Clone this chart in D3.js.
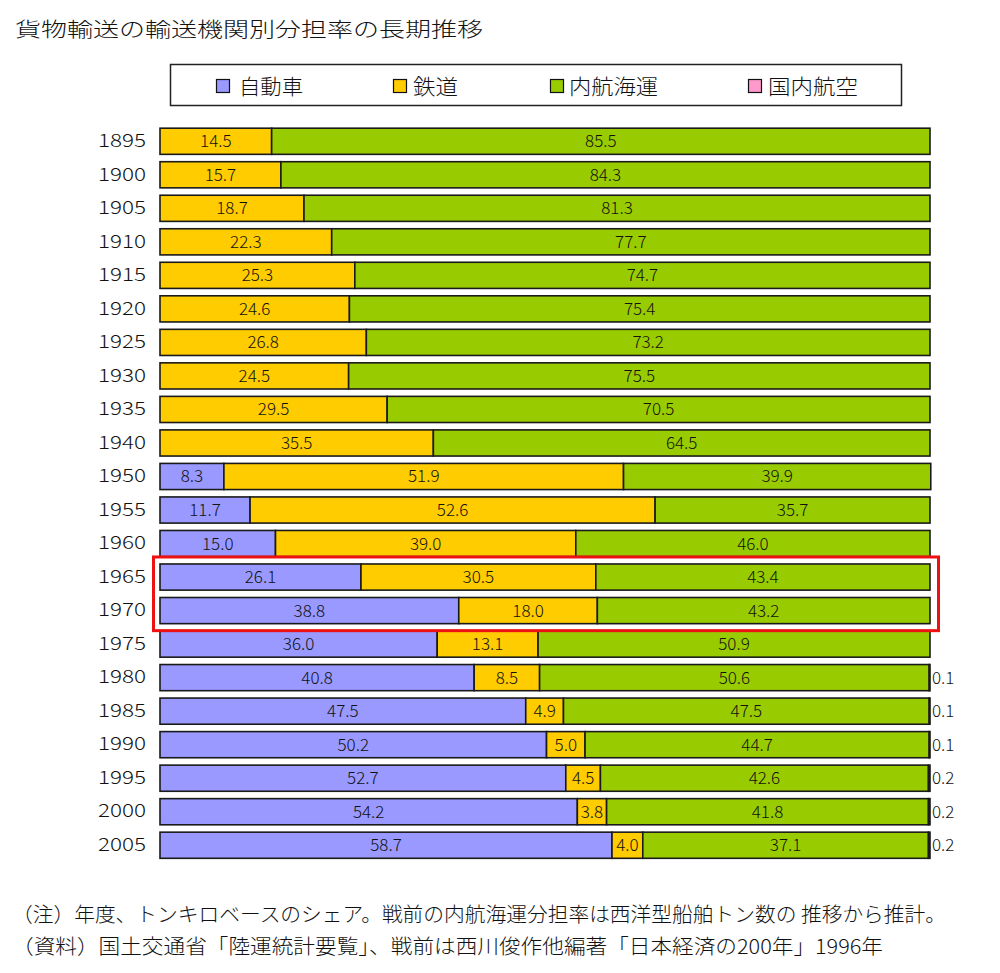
<!DOCTYPE html>
<html><head><meta charset="utf-8">
<script src="https://cdn.jsdelivr.net/npm/d3@7"></script>
<style>
body{margin:0;background:#fff;}
svg{display:block;font-family:"Noto Sans CJK JP","Noto Sans",sans-serif;}
</style></head>
<body><svg id="c" width="1000" height="973"></svg>
<script>
const years = ["1895","1900","1905","1910","1915","1920","1925","1930","1935","1940","1950","1955","1960","1965","1970","1975","1980","1985","1990","1995","2000","2005"];
const car  = [0,0,0,0,0,0,0,0,0,0,8.3,11.7,15.0,26.1,38.8,36.0,40.8,47.5,50.2,52.7,54.2,58.7];
const rail = [14.5,15.7,18.7,22.3,25.3,24.6,26.8,24.5,29.5,35.5,51.9,52.6,39.0,30.5,18.0,13.1,8.5,4.9,5.0,4.5,3.8,4.0];
const sea  = [85.5,84.3,81.3,77.7,74.7,75.4,73.2,75.5,70.5,64.5,39.9,35.7,46.0,43.4,43.2,50.9,50.6,47.5,44.7,42.6,41.8,37.1];
const air  = [0,0,0,0,0,0,0,0,0,0,0,0,0,0,0,0,0.1,0.1,0.1,0.2,0.2,0.2];
const seriesNames = ["自動車","鉄道","内航海運","国内航空"];
const colors = ["#9999FF","#FFCC00","#99CC00","#FF99CC"];
const highlighted = ["1965","1970"];
const title = "貨物輸送の輸送機関別分担率の長期推移";
const notes = ["（注）年度、トンキロベースのシェア。戦前の内航海運分担率は西洋型船舶トン数の 推移から推計。",
               "（資料）国土交通省「陸運統計要覧」、戦前は西川俊作他編著「日本経済の200年」1996年"];

const svg = d3.select("#c");
const keys = ["car","rail","sea","air"];
const rows = years.map((y,i)=>({year:y,car:car[i],rail:rail[i],sea:sea[i],air:air[i]}));

const x = d3.scaleLinear().domain([0,100]).range([160,930]);
const y = d3.scaleBand().domain(years).range([124.5,862]).paddingInner(0.22).paddingOuter(0.11);

svg.append("text").attr("x",15).attr("y",37).attr("font-size",20).attr("font-weight",300).attr("fill","#111")
  .attr("textLength",468).attr("lengthAdjust","spacingAndGlyphs").text(title);

// legend
const lg = svg.append("g");
lg.append("rect").attr("x",170.5).attr("y",64.5).attr("width",731).attr("height",41).attr("fill","#fff").attr("stroke","#222").attr("stroke-width",1.5);
const legX = [216,393,550,748];
const legTX = [239,413,569,768];
const legW = [64,45,89,90];
seriesNames.forEach((n,i)=>{
  lg.append("rect").attr("x",legX[i]+0.5).attr("y",79.5).attr("width",13).attr("height",13).attr("fill",colors[i]).attr("stroke","#111").attr("stroke-width",1.2);
  lg.append("text").attr("x",legTX[i]).attr("y",94).attr("font-size",21).attr("font-weight",300).attr("fill","#111")
    .attr("textLength",legW[i]).attr("lengthAdjust","spacingAndGlyphs").text(n);
});

const stack = d3.stack().keys(keys)(rows);
const g = svg.append("g");
stack.forEach((layer,k)=>{
  layer.forEach((d,i)=>{
    const v = d[1]-d[0];
    if (v<=0) return;
    g.append("rect").attr("x",x(d[0])).attr("y",y(years[i])).attr("width",x(d[1])-x(d[0])).attr("height",y.bandwidth())
      .attr("fill",colors[k]).attr("stroke","#1a1a1a").attr("stroke-width",1.6);
    if (k<3) {
      g.append("text").attr("x",(x(d[0])+x(d[1]))/2).attr("y",y(years[i])+y.bandwidth()/2+6)
        .attr("text-anchor","middle").attr("font-size",17).attr("font-weight",300).attr("fill","#111").text(v.toFixed(1));
    } else {
      g.append("text").attr("x",x(100)+2).attr("y",y(years[i])+y.bandwidth()/2+6)
        .attr("font-size",17).attr("font-weight",300).attr("fill","#111").text(v.toFixed(1));
    }
  });
});

// year axis
const ax = svg.append("g").attr("transform","translate(146,0)").call(d3.axisLeft(y).tickSize(0).tickPadding(0));
ax.select(".domain").remove();
ax.selectAll("text").attr("font-size",18).attr("font-weight",300).attr("fill","#111").attr("font-family","'Noto Sans CJK JP','Noto Sans',sans-serif")
  .attr("textLength",48).attr("lengthAdjust","spacingAndGlyphs");

// highlight box
const hy0 = y(highlighted[0]), hy1 = y(highlighted[highlighted.length-1])+y.bandwidth();
svg.append("rect").attr("x",153.5).attr("y",hy0-7).attr("width",785).attr("height",hy1-hy0+14)
  .attr("fill","none").attr("stroke","#EE1111").attr("stroke-width",3);

const noteW = [934,871];
notes.forEach((t,i)=>{
  svg.append("text").attr("x",12).attr("y",922+i*32).attr("font-size",20).attr("font-weight",300).attr("fill","#111")
    .attr("textLength",noteW[i]).attr("lengthAdjust","spacingAndGlyphs").text(t);
});
</script></body></html>
